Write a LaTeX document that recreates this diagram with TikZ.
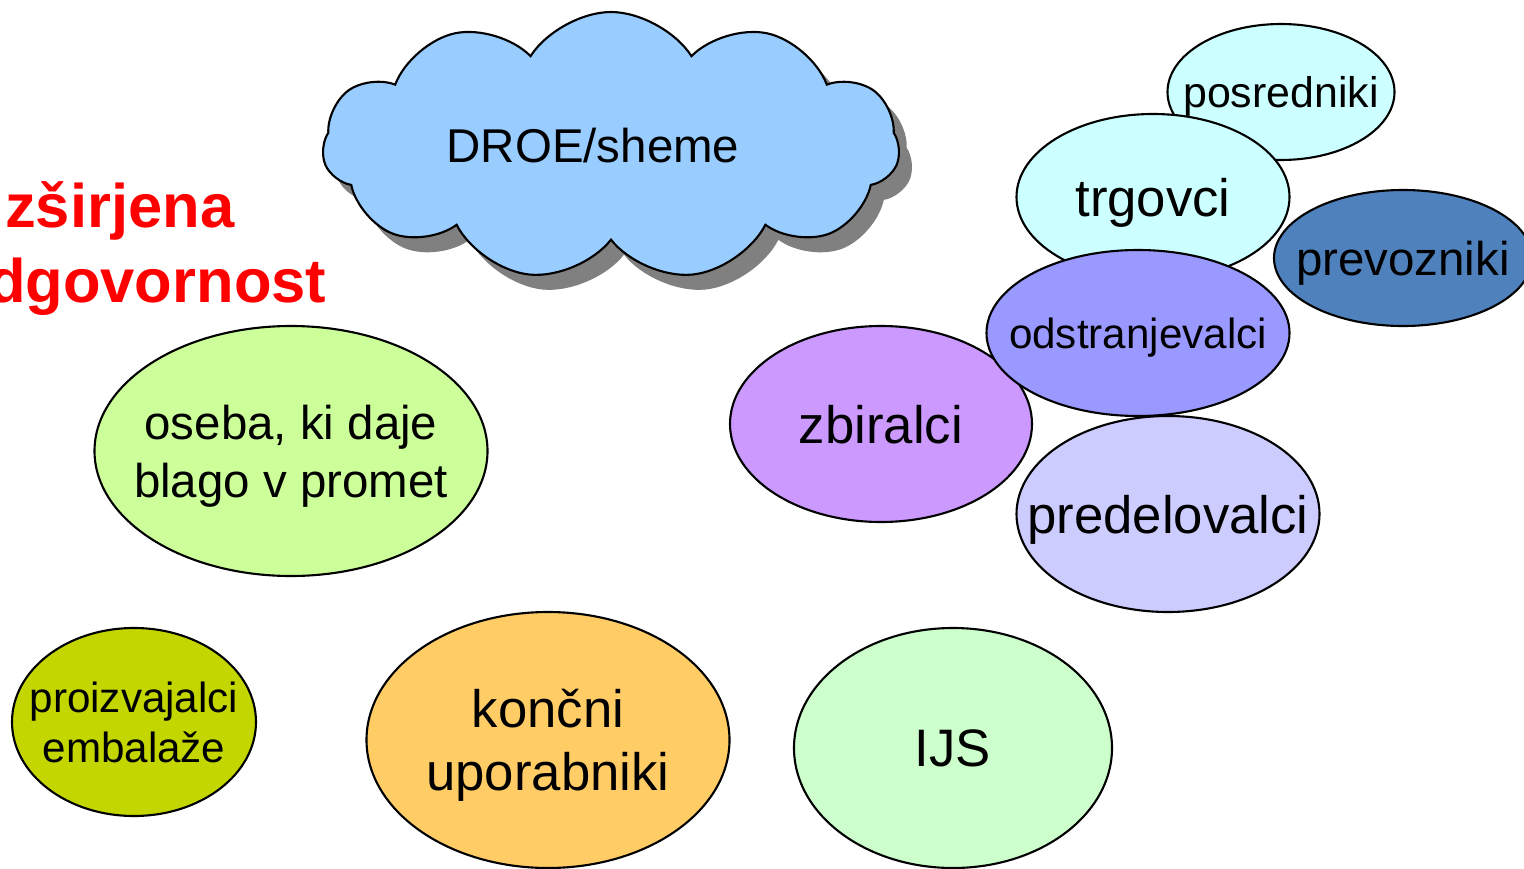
\documentclass[tikz,border=0pt]{standalone}
\usepackage{fontspec}
\setmainfont{Liberation Sans}
\usepackage{tikz}
\usetikzlibrary{shapes,shadows,positioning}
\usepackage{xcolor}
\definecolor{epcloud}{RGB}{153,204,255}
\definecolor{epcyan}{RGB}{204,255,255}
\definecolor{epsteel}{RGB}{79,129,189}
\definecolor{epviolet}{RGB}{153,153,255}
\definecolor{eplilac}{RGB}{204,153,255}
\definecolor{eplavender}{RGB}{204,204,255}
\definecolor{eplime}{RGB}{204,255,153}
\definecolor{epolive}{RGB}{196,214,0}
\definecolor{epapricot}{RGB}{255,204,102}
\definecolor{epmint}{RGB}{204,255,204}
\definecolor{epred}{RGB}{255,0,0}
\tikzstyle{bubble} = [ellipse, draw=black, line width=0.6pt, align=center, inner sep=-1cm, text depth=0pt, text=black]
\tikzstyle{puff} = [cloud, cloud puffs=11, cloud puff arc=115, cloud ignores aspect, draw=black, line width=0.6pt, fill=epcloud, inner sep=0pt, drop shadow={shadow xshift=0.13cm, shadow yshift=-0.15cm, fill=black!50, opacity=1}]
\tikzstyle{redtitle} = [anchor=base east, inner sep=0pt, text=epred, font=\fontsize{17.5}{20}\selectfont\bfseries]

\begin{document}
\begin{tikzpicture}
\useasboundingbox (0,0) rectangle (15.24,8.68);

% Title (cut off at left)
\node[redtitle] (redtop) at (2.35,6.41) {zširjena};
\node[redtitle] (redbottom) at (3.27,5.66) {dgovornost};

% Cloud
\node[puff, minimum width=5.77cm, minimum height=2.68cm] (droe) at (6.11,7.22) {};
\node[font=\fontsize{13.5}{16}\selectfont] (droetext) at ([xshift=-0.18cm]droe.center) {DROE/sheme};

% Right group
\node[bubble, fill=epcyan, minimum width=2.27cm, minimum height=1.36cm, font=\fontsize{12.2}{14}\selectfont] (posr) at (12.81,7.76) {posredniki};
\node[bubble, fill=epcyan, minimum width=2.73cm, minimum height=1.66cm, font=\fontsize{15}{18}\selectfont] (trg) at (11.53,6.71) {trgovci};
\node[bubble, fill=epsteel, minimum width=2.58cm, minimum height=1.36cm, font=\fontsize{13.5}{16}\selectfont] (prev) at (14.03,6.10) {prevozniki};
\node[bubble, fill=eplilac, minimum width=3.02cm, minimum height=1.96cm, font=\fontsize{15}{18}\selectfont] (zbir) at (8.81,4.44) {zbiralci};
\node[bubble, fill=epviolet, minimum width=3.03cm, minimum height=1.66cm, font=\fontsize{12}{14}\selectfont] (odst) at (11.38,5.35) {odstranjevalci};
\node[bubble, fill=eplavender, minimum width=3.03cm, minimum height=1.96cm, font=\fontsize{15}{18}\selectfont] (pred) at (11.68,3.54) {predelovalci};

% Left and bottom
\node[bubble, fill=eplime, minimum width=3.93cm, minimum height=2.50cm, font=\fontsize{13.5}{16.5}\selectfont] (oseba) at (2.91,4.17) {oseba, ki daje\\blago v promet};
\node[bubble, fill=epolive, minimum width=2.44cm, minimum height=1.88cm, font=\fontsize{12}{14.2}\selectfont] (proiz) at (1.34,1.46) {proizvajalci\\embalaže};
\node[bubble, fill=epapricot, minimum width=3.63cm, minimum height=2.56cm, font=\fontsize{15}{17.9}\selectfont] (konc) at (5.48,1.28) {končni\\uporabniki};
\node[bubble, fill=epmint, minimum width=3.18cm, minimum height=2.40cm, font=\fontsize{15}{18}\selectfont] (ijs) at (9.53,1.20) {IJS};
\end{tikzpicture}
\end{document}
